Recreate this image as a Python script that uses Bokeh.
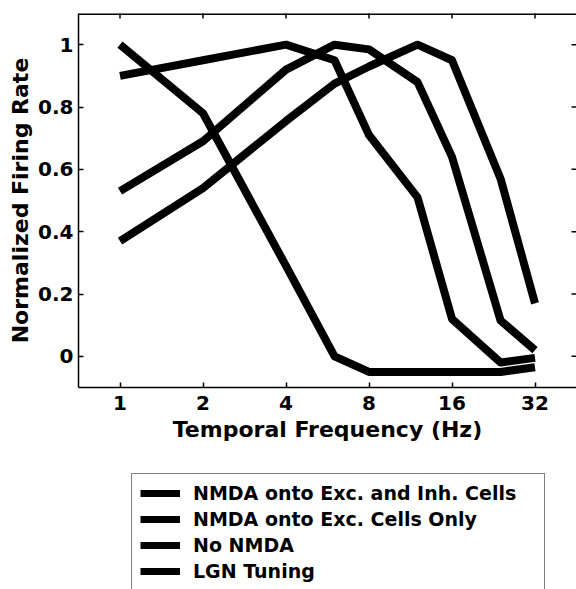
import math

from bokeh.plotting import figure
from bokeh.layouts import column
from bokeh.models import Range1d, FixedTicker, Legend, LegendItem, Span
from bokeh.embed import file_html
from bokeh.resources import INLINE

# Temporal frequency samples (Hz) and normalized firing rate per condition
freq_hz = [1, 2, 4, 6, 8, 12, 16, 24, 32]
nmda_exc_inh = [1.00, 0.78, 0.29, 0.00, -0.05, -0.05, -0.05, -0.05, -0.035]
nmda_exc_only = [0.90, 0.95, 1.00, 0.95, 0.71, 0.51, 0.12, -0.02, -0.005]
no_nmda = [0.53, 0.69, 0.92, 1.00, 0.985, 0.88, 0.64, 0.115, 0.02]
lgn_tuning = [0.37, 0.54, 0.755, 0.875, 0.93, 1.00, 0.95, 0.57, 0.17]

series = [nmda_exc_inh, nmda_exc_only, no_nmda, lgn_tuning]
series_labels = [
    "NMDA onto Exc. and Inh. Cells",
    "NMDA onto Exc. Cells Only",
    "No NMDA",
    "LGN Tuning",
]

x_ticks = [1, 2, 4, 8, 16, 32]
x_tick_labels = ["1", "2", "4", "8", "16", "32"]
y_ticks = [0, 0.2, 0.4, 0.6, 0.8, 1.0]
y_tick_labels = ["0", "0.2", "0.4", "0.6", "0.8", "1"]

x_lo, x_hi = 2 ** -0.5, 2 ** 5.5
y_lo, y_hi = -0.1, 1.1

FONT = "DejaVu Sans"
AXIS_W = 1.5

p = figure(
    width=576, height=460,
    x_axis_type="log",
    x_range=Range1d(x_lo, x_hi),
    y_range=Range1d(y_lo, y_hi),
    output_backend="svg",
    toolbar_location=None,
    min_border_left=78, min_border_right=0,
    min_border_top=13, min_border_bottom=73,
)
p.grid.visible = False
p.outline_line_color = None
p.background_fill_color = "white"
p.border_fill_color = "white"


def style_axis(ax, ticks, labels, title):
    ax.ticker = FixedTicker(ticks=ticks)
    ax.major_label_overrides = {t: l for t, l in zip(ticks, labels)}
    ax.major_tick_in = 5
    ax.major_tick_out = 0
    ax.minor_tick_in = 0
    ax.minor_tick_out = 0
    ax.major_tick_line_width = AXIS_W
    ax.major_tick_line_color = "black"
    ax.axis_line_width = AXIS_W
    ax.axis_line_color = "black"
    ax.major_label_text_font = FONT
    ax.major_label_text_font_style = "bold"
    ax.major_label_text_font_size = "20px"
    ax.major_label_text_color = "black"
    ax.axis_label = title
    ax.axis_label_text_font = FONT
    ax.axis_label_text_font_style = "bold"
    ax.axis_label_text_font_size = "22px"
    ax.axis_label_text_color = "black"


xaxis = p.xaxis[0]
style_axis(xaxis, x_ticks, x_tick_labels, "Temporal Frequency (Hz)")
xaxis.major_label_standoff = 8
xaxis.axis_label_standoff = 4

yaxis = p.yaxis[0]
style_axis(yaxis, y_ticks, y_tick_labels, "Normalized Firing Rate")
yaxis.major_label_standoff = 5
yaxis.axis_label_standoff = 2

# top edge of the box; the right edge is left open
p.add_layout(Span(location=y_hi, dimension="width", line_color="black", line_width=3))

# inward tick marks on the top and right edges (outer half is clipped by the frame)
p.scatter(x=x_ticks, y=[y_hi] * len(x_ticks), marker="dash", angle=math.pi / 2,
          size=10, line_color="black", line_width=AXIS_W)
p.scatter(x=[x_hi] * len(y_ticks), y=y_ticks, marker="dash",
          size=10, line_color="black", line_width=AXIS_W)

for vals in series:
    p.line(freq_hz, vals, line_color="black", line_width=8, line_join="round")

# legend panel below the axes
leg_fig = figure(
    width=576, height=129,
    x_range=Range1d(0, 1), y_range=Range1d(0, 1),
    output_backend="svg",
    toolbar_location=None,
    min_border=0,
    x_axis_location=None, y_axis_location=None,
)
leg_fig.grid.visible = False
leg_fig.outline_line_color = None
leg_fig.background_fill_color = "white"
leg_fig.border_fill_color = "white"

items = []
for vals, label in zip(series, series_labels):
    r = leg_fig.line(freq_hz, vals, line_color="black", line_width=7, visible=False)
    items.append(LegendItem(label=label, renderers=[r]))

legend = Legend(
    items=items,
    location=(53, -2),
    orientation="vertical",
    label_text_font=FONT,
    label_text_font_style="bold",
    label_text_font_size="19px",
    label_text_color="black",
    label_height=20,
    label_width=343,
    glyph_height=20,
    glyph_width=40,
    label_standoff=13,
    spacing=4,
    padding=8,
    margin=0,
    border_line_color="black",
    border_line_width=AXIS_W,
    background_fill_alpha=1,
    inactive_fill_alpha=0,
)
leg_fig.add_layout(legend, "center")

layout = column(p, leg_fig, spacing=0)
open("out.html", "w").write(file_html(layout, INLINE))
